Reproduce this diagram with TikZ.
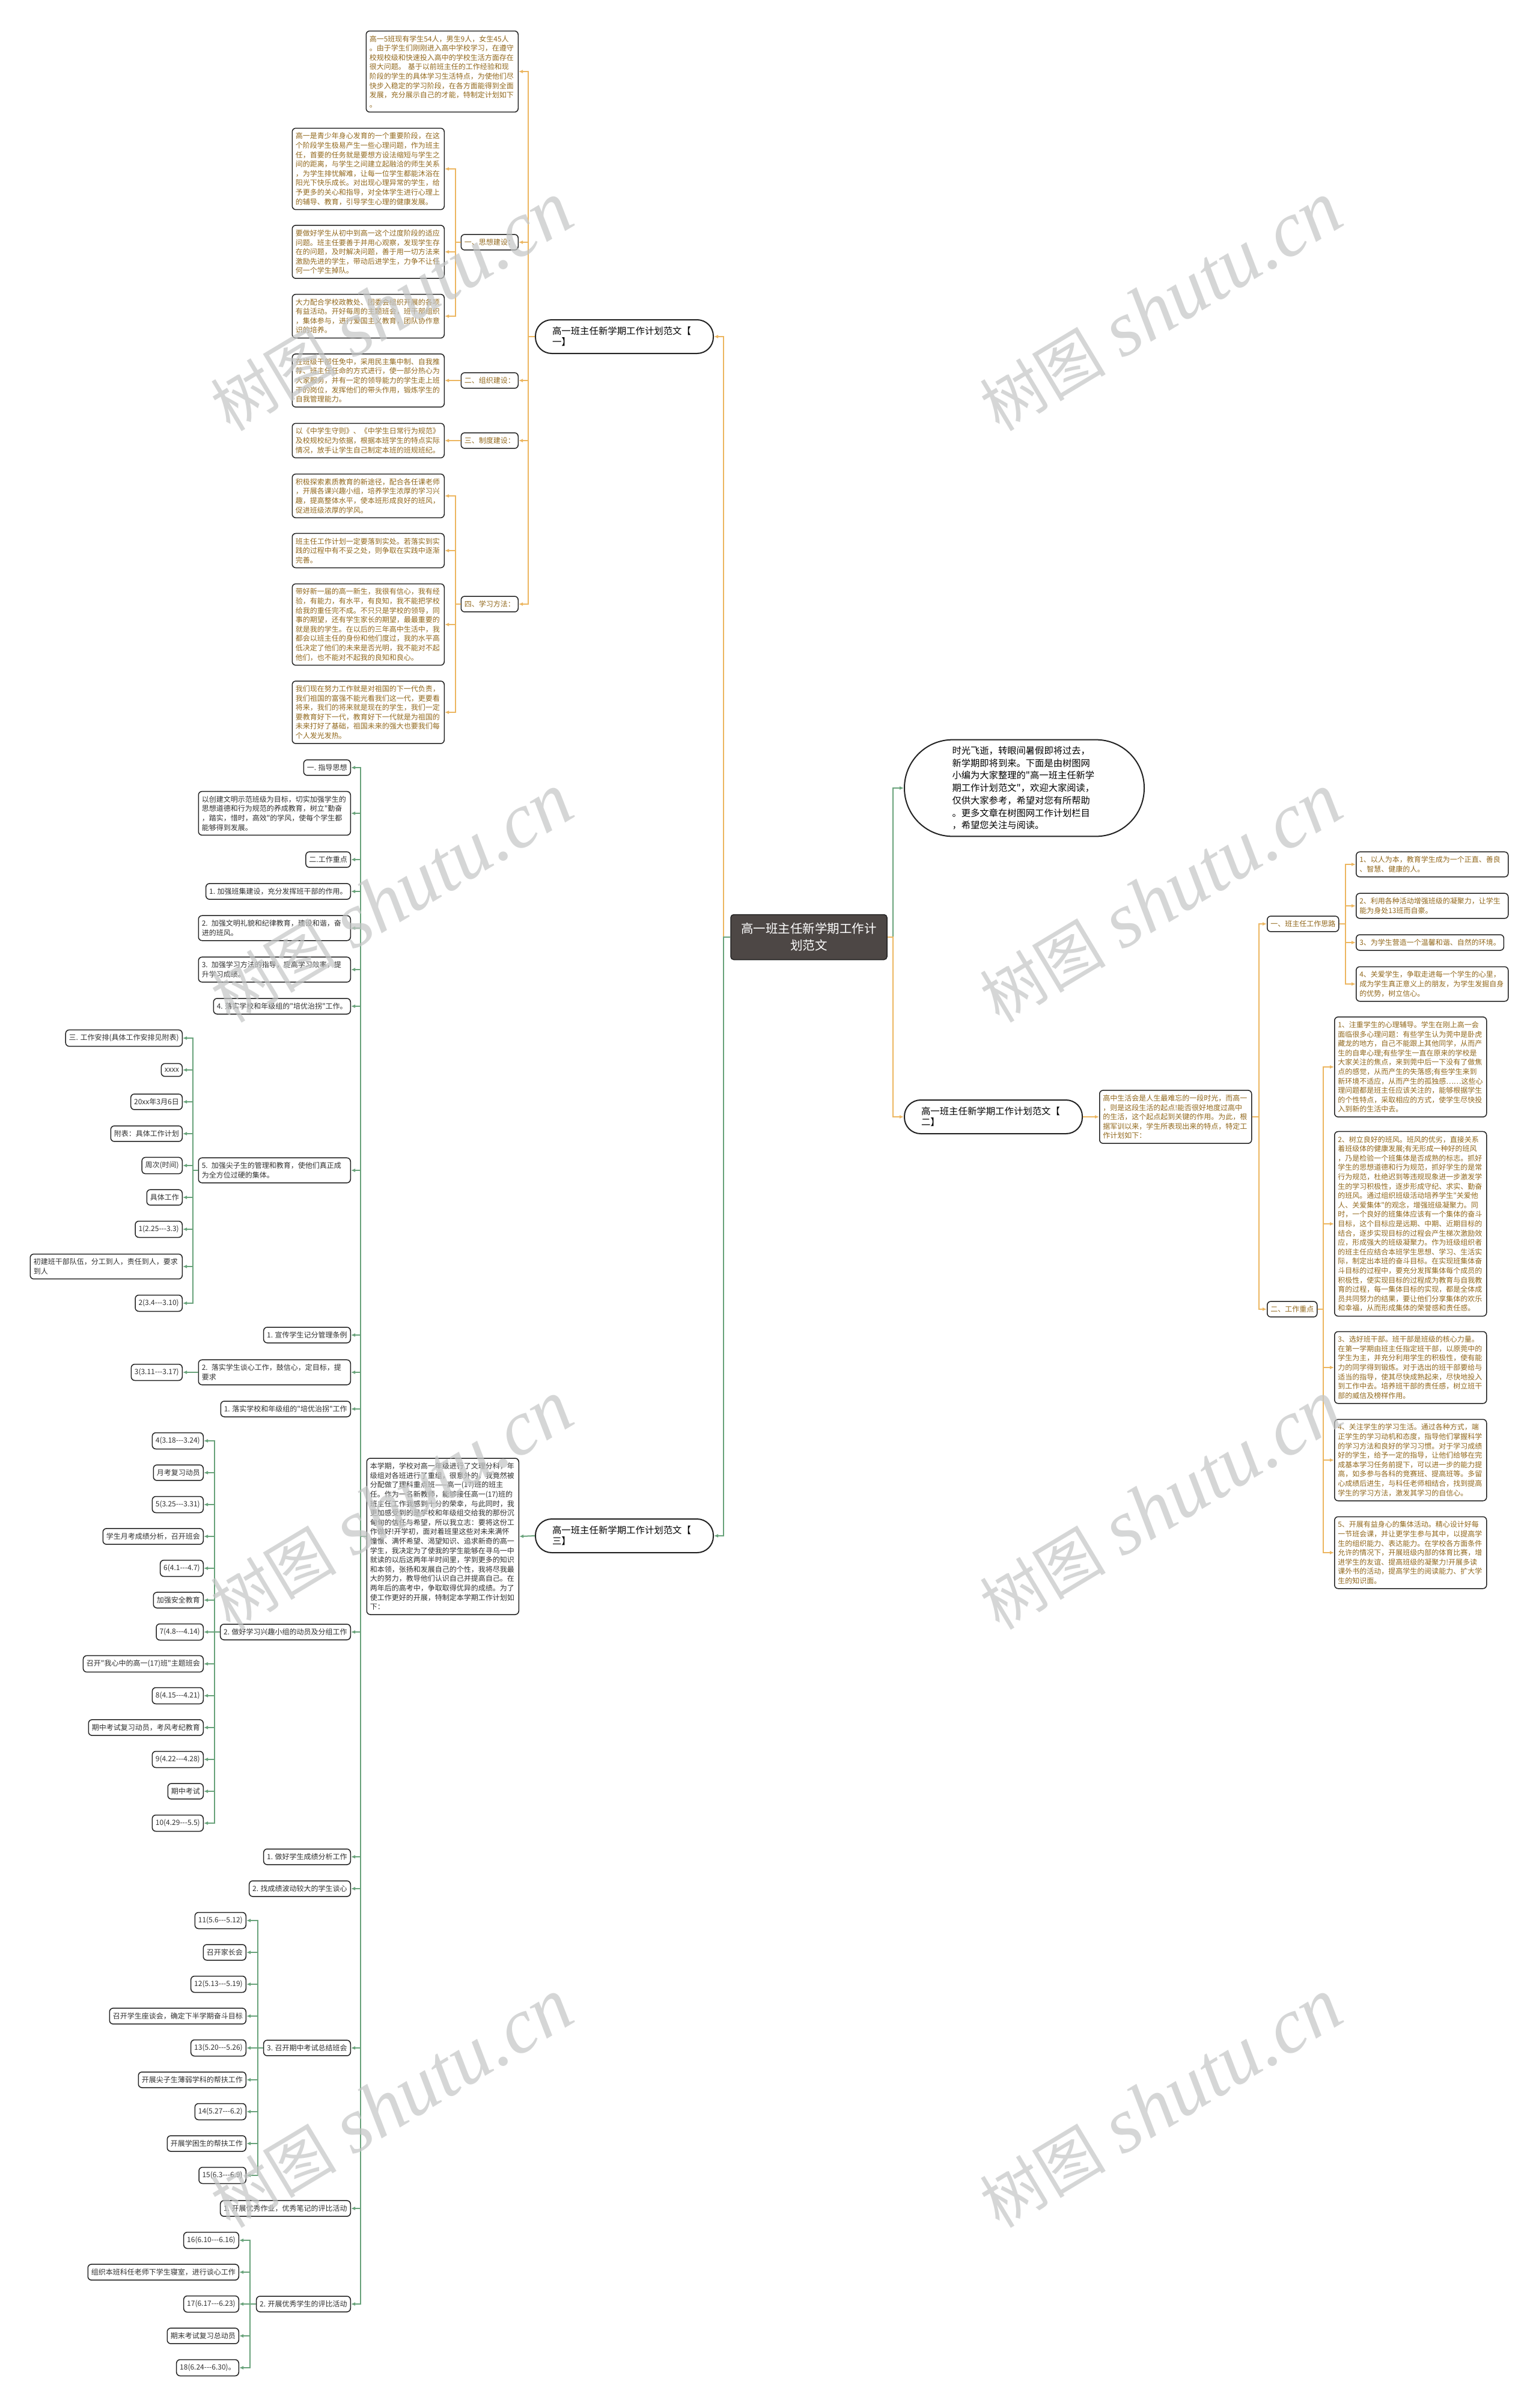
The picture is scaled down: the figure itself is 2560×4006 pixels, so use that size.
\documentclass[tikz,border=0pt]{standalone}
\usepackage{fontspec}
\newfontfamily\cjk[Ligatures=TeXOff]{Noto Sans CJK SC}
\newfontfamily\wmserif{Liberation Serif}
\usetikzlibrary{arrows.meta}
\definecolor{lineorange}{RGB}{236,182,96}
\definecolor{linegreen}{RGB}{104,162,122}
\definecolor{textgold}{RGB}{146,104,28}
\definecolor{textgray}{RGB}{48,48,48}
\definecolor{boxline}{RGB}{34,34,34}
\definecolor{rootfill}{RGB}{77,71,69}
\definecolor{wmgray}{RGB}{196,198,198}
\tikzset{
  mapbox/.style={draw=boxline, line width=1.5pt, fill=white, rounded corners=6pt,
    font=\cjk\fontsize{12}{15.6}\selectfont, inner xsep=5.5pt, inner ysep=7.4pt, align=left},
  gbox/.style={mapbox, text=textgray},
  obox/.style={mapbox, text=textgold},
  parabox/.style={text width=242pt},
  pill/.style={draw=boxline, line width=2pt, fill=white, rounded corners=27pt,
    font=\cjk\fontsize{15.4}{18}\selectfont, text width=240pt, align=left,
    inner xsep=28pt, inner ysep=11pt, minimum height=56pt},
  oline/.style={draw=lineorange, line width=2pt, -{Latex[length=7pt,width=6pt]}},
  gline/.style={draw=linegreen, line width=2pt, -{Latex[length=7pt,width=6pt]}},
  wmark/.style={text=wmgray, opacity=.7, rotate=31, inner sep=0pt}
}
\begin{document}
\begin{tikzpicture}[x=1pt, y=-1pt]
\useasboundingbox (0,0) rectangle (2560,4006);
\fill[white] (0,0) rectangle (2560,4006);

\node[draw=boxline, line width=1.5pt, fill=rootfill, text=white, rounded corners=5pt,
  font=\cjk\fontsize{20.5}{28}\selectfont, text width=226pt, align=center,
  inner xsep=17pt, inner ysep=14pt] (root) at (1346,1559) {高一班主任新学期工作计\\划范文};

\node[pill, anchor=east] (plan1) at (1188,560) {高一班主任新学期工作计划范文【\\一】};
\node[pill, anchor=west] (plan2) at (1504,1858) {高一班主任新学期工作计划范文【\\二】};
\node[pill, anchor=east] (plan3) at (1188,2555) {高一班主任新学期工作计划范文【\\三】};
\node[draw=boxline, line width=2pt, fill=white, rounded corners=80pt,
  font=\cjk\fontsize{15.3}{20.7}\selectfont, text width=240pt, align=left,
  minimum width=399pt, inner ysep=11pt, anchor=west] (intro) at (1504,1311)
  {时光飞逝，转眼间暑假即将过去，\\新学期即将到来。下面是由树图网\\小编为大家整理的"高一班主任新学\\期工作计划范文"，欢迎大家阅读，\\仅供大家参考，希望对您有所帮助\\。更多文章在树图网工作计划栏目\\，希望您关注与阅读。};

\draw[oline] (root.west) -- ++(-11,0) |- (plan1.east);
\draw[gline] (root.west) -- ++(-11,0) |- (plan3.east);
\draw[gline] (root.east) -- ++(9,0) |- (intro.west);
\draw[oline] (root.east) -- ++(9,0) |- (plan2.west);

\node[obox, parabox, anchor=east] (intro1) at (863,119) {高一5班现有学生54人，男生9人，女生45人\\。由于学生们刚刚进入高中学校学习，在遵守\\校规校级和快速投入高中的学校生活方面存在\\很大问题。 基于以前班主任的工作经验和现\\阶段的学生的具体学习生活特点，为使他们尽\\快步入稳定的学习阶段，在各方面能得到全面\\发展，充分展示自己的才能，特制定计划如下\\。};
\node[obox, anchor=east] (s1) at (863,403) {一、思想建设：};
\node[obox, anchor=east] (s2) at (863,633) {二、组织建设：};
\node[obox, anchor=east] (s3) at (863,733) {三、制度建设：};
\node[obox, anchor=east] (s4) at (863,1005) {四、学习方法：};
\node[obox, parabox, anchor=east] (t1) at (740,281) {高一是青少年身心发育的一个重要阶段，在这\\个阶段学生极易产生一些心理问题，作为班主\\任，首要的任务就是要想方设法缩短与学生之\\间的距离，与学生之间建立起融洽的师生关系\\，为学生排忧解难，让每一位学生都能沐浴在\\阳光下快乐成长。对出现心理异常的学生，给\\予更多的关心和指导，对全体学生进行心理上\\的辅导、教育，引导学生心理的健康发展。};
\node[obox, parabox, anchor=east] (t2) at (740,419) {要做好学生从初中到高一这个过度阶段的适应\\问题。班主任要善于并用心观察，发现学生存\\在的问题，及时解决问题，善于用一切方法来\\激励先进的学生，带动后进学生，力争不让任\\何一个学生掉队。};
\node[obox, parabox, anchor=east] (t3) at (740,526) {大力配合学校政教处、团委会组织开展的各项\\有益活动。开好每周的主题班会，班干部组织\\，集体参与，进行爱国主义教育，团队协作意\\识的培养。};
\node[obox, parabox, anchor=east] (t4) at (740,633) {在班级干部任免中，采用民主集中制、自我推\\荐、班主任任命的方式进行，使一部分热心为\\大家服务，并有一定的领导能力的学生走上班\\干的岗位，发挥他们的带头作用，锻炼学生的\\自我管理能力。};
\node[obox, parabox, anchor=east] (t5) at (740,733) {以《中学生守则》、《中学生日常行为规范》\\及校规校纪为依据，根据本班学生的特点实际\\情况，放手让学生自己制定本班的班规班纪。};
\node[obox, parabox, anchor=east] (t6) at (740,825) {积极探索素质教育的新途径，配合各任课老师\\，开展各课兴趣小组，培养学生浓厚的学习兴\\趣，提高整体水平，使本班形成良好的班风，\\促进班级浓厚的学风。};
\node[obox, parabox, anchor=east] (t7) at (740,916) {班主任工作计划一定要落到实处。若落实到实\\践的过程中有不妥之处，则争取在实践中逐渐\\完善。};
\node[obox, parabox, anchor=east] (t8) at (740,1039) {带好新一届的高一新生，我很有信心，我有经\\验，有能力，有水平，有良知，我不能把学校\\给我的重任完不成。不只只是学校的领导，同\\事的期望，还有学生家长的期望，最最重要的\\就是我的学生。在以后的三年高中生活中，我\\都会以班主任的身份和他们度过，我的水平高\\低决定了他们的未来是否光明，我不能对不起\\他们，也不能对不起我的良知和良心。};
\node[obox, parabox, anchor=east] (t9) at (740,1185) {我们现在努力工作就是对祖国的下一代负责，\\我们祖国的富强不能光看我们这一代，更要看\\将来，我们的将来就是现在的学生，我们一定\\要教育好下一代，教育好下一代就是为祖国的\\未来打好了基础，祖国未来的强大也要我们每\\个人发光发热。};
\foreach \c in {intro1,s1,s2,s3,s4}
  \draw[oline] (plan1.west) -- ++(-11,0) |- (\c.east);
\foreach \c in {t1,t2,t3}
  \draw[oline] (s1.west) -- ++(-9,0) |- (\c.east);
\draw[oline] (s2.west) -- (t4.east);
\draw[oline] (s3.west) -- (t5.east);
\foreach \c in {t6,t7,t8,t9}
  \draw[oline] (s4.west) -- ++(-9,0) |- (\c.east);

\node[obox, parabox, anchor=west] (intro2) at (1829,1858) {高中生活会是人生最难忘的一段时光，而高一\\，则是这段生活的起点!能否很好地度过高中\\的生活，这个起点起到关键的作用。为此，根\\据军训以来，学生所表现出来的特点，特定工\\作计划如下：};
\draw[oline] (plan2.east) -- (intro2.west);
\node[obox, anchor=west] (idea) at (2108,1537) {一、班主任工作思路};
\node[obox, anchor=west] (focus) at (2108,2178) {二、工作重点};
\foreach \c in {idea,focus}
  \draw[oline] (intro2.east) -- ++(11,0) |- (\c.west);
\node[obox, parabox, anchor=west] (c1) at (2256,1438) {1、以人为本，教育学生成为一个正直、善良\\、智慧、健康的人。};
\node[obox, parabox, anchor=west] (c2) at (2256,1507) {2、利用各种活动增强班级的凝聚力，让学生\\能为身处13班而自豪。};
\node[obox, anchor=west] (c3) at (2256,1568) {3、为学生营造一个温馨和谐、自然的环境。};
\node[obox, parabox, anchor=west] (c4) at (2256,1637) {4、关爱学生，争取走进每一个学生的心里，\\成为学生真正意义上的朋友，为学生发掘自身\\的优势，树立信心。};
\foreach \c in {c1,c2,c3,c4}
  \draw[oline] (idea.east) -- ++(10,0) |- (\c.west);
\node[obox, parabox, anchor=west] (w1) at (2220,1775) {1、注重学生的心理辅导。学生在刚上高一会\\面临很多心理问题：有些学生认为莞中是卧虎\\藏龙的地方，自己不能跟上其他同学，从而产\\生的自卑心理;有些学生一直在原来的学校是\\大家关注的焦点，来到莞中后一下没有了做焦\\点的感觉，从而产生的失落感;有些学生来到\\新环境不适应，从而产生的孤独感……这些心\\理问题都是班主任应该关注的，能够根据学生\\的个性特点，采取相应的方式，使学生尽快投\\入到新的生活中去。};
\node[obox, parabox, anchor=west] (w2) at (2220,2036) {2、树立良好的班风。班风的优劣，直接关系\\着班级体的健康发展;有无形成一种好的班风\\，乃是检验一个班集体是否成熟的标志。抓好\\学生的思想道德和行为规范，抓好学生的是常\\行为规范，杜绝迟到等违规现象进一步激发学\\生的学习积极性，逐步形成守纪、求实、勤奋\\的班风。通过组织班级活动培养学生"关爱他\\人、关爱集体"的观念，增强班级凝聚力。同\\时，一个良好的班集体应该有一个集体的奋斗\\目标，这个目标应是远期、中期、近期目标的\\结合，逐步实现目标的过程会产生梯次激励效\\应，形成强大的班级凝聚力。作为班级组织者\\的班主任应结合本班学生思想、学习、生活实\\际，制定出本班的奋斗目标。在实现班集体奋\\斗目标的过程中，要充分发挥集体每个成员的\\积极性，使实现目标的过程成为教育与自我教\\育的过程，每一集体目标的实现，都是全体成\\员共同努力的结果，要让他们分享集体的欢乐\\和幸福，从而形成集体的荣誉感和责任感。};
\node[obox, parabox, anchor=west] (w3) at (2220,2275) {3、选好班干部。班干部是班级的核心力量。\\在第一学期由班主任指定班干部，以原莞中的\\学生为主，并充分利用学生的积极性，使有能\\力的同学得到锻炼。对于选出的班干部要给与\\适当的指导，使其尽快成熟起来，尽快地投入\\到工作中去。培养班干部的责任感，树立班干\\部的威信及榜样作用。};
\node[obox, parabox, anchor=west] (w4) at (2220,2429) {4、关注学生的学习生活。通过各种方式，端\\正学生的学习动机和态度，指导他们掌握科学\\的学习方法和良好的学习习惯。对于学习成绩\\好的学生，给予一定的指导，让他们给够在完\\成基本学习任务前提下，可以进一步的能力提\\高，如多参与各科的竞赛班、提高班等。多留\\心成绩后进生，与科任老师相结合，找到提高\\学生的学习方法，激发其学习的自信心。};
\node[obox, parabox, anchor=west] (w5) at (2220,2583) {5、开展有益身心的集体活动。精心设计好每\\一节班会课，并让更学生参与其中，以提高学\\生的组织能力、表达能力。在学校各方面条件\\允许的情况下，开展班级内部的体育比赛，增\\进学生的友谊、提高班级的凝聚力!开展多读\\课外书的活动，提高学生的阅读能力、扩大学\\生的知识面。};
\foreach \c in {w1,w2,w3,w4,w5}
  \draw[oline] (focus.east) -- ++(9,0) |- (\c.west);

\node[gbox, parabox, anchor=east] (intro3) at (864,2556) {本学期，学校对高一年级进行了文理分科，年\\级组对各班进行了重组，很意外的，我竟然被\\分配做了理科重点班——高一(17)班的班主\\任。作为一名新教师，能够接任高一(17)班的\\班主任工作我感到十分的荣幸，与此同时，我\\更加感受到的是学校和年级组交给我的那份沉\\甸甸的信任与希望，所以我立志：要将这份工\\作做好!开学初，面对着班里这些对未来满怀\\憧憬、满怀希望、渴望知识、追求新奇的高一\\学生，我决定为了使我的学生能够在寻乌一中\\就读的以后这两年半时间里，学到更多的知识\\和本领，张扬和发展自己的个性，我将尽我最\\大的努力，教导他们认识自己并提高自己。在\\两年后的高考中，争取取得优异的成绩。为了\\使工作更好的开展，特制定本学期工作计划如\\下：};
\draw[gline] (plan3.west) -- (intro3.east);
\node[gbox, anchor=east] (a1) at (584,1277) {一. 指导思想};
\node[gbox, parabox, anchor=east] (a2) at (584,1353) {以创建文明示范班级为目标，切实加强学生的\\思想道德和行为规范的养成教育，树立"勤奋\\，踏实，惜时，高效"的学风，使每个学生都\\能够得到发展。};
\node[gbox, anchor=east] (a3) at (584,1430) {二.工作重点};
\node[gbox, anchor=east] (a4) at (584,1483) {1. 加强班集建设，充分发挥班干部的作用。};
\node[gbox, parabox, anchor=east] (a5) at (584,1544) {2. 加强文明礼貌和纪律教育，建设和谐，奋\\进的班风。};
\node[gbox, parabox, anchor=east] (a6) at (584,1613) {3. 加强学习方法的指导，提高学习效率，提\\升学习成绩。};
\node[gbox, anchor=east] (a7) at (584,1674) {4. 落实学校和年级组的"培优治拐"工作。};
\node[gbox, parabox, anchor=east] (a8) at (584,1947) {5. 加强尖子生的管理和教育，使他们真正成\\为全方位过硬的集体。};
\node[gbox, anchor=east] (a9) at (584,2221) {1. 宣传学生记分管理条例};
\node[gbox, parabox, anchor=east] (a10) at (584,2283) {2. 落实学生谈心工作，鼓信心，定目标，提\\要求};
\node[gbox, anchor=east] (a11) at (584,2344) {1. 落实学校和年级组的"培优治拐"工作};
\node[gbox, anchor=east] (a12) at (584,2715) {2. 做好学习兴趣小组的动员及分组工作};
\node[gbox, anchor=east] (a13) at (584,3089) {1. 做好学生成绩分析工作};
\node[gbox, anchor=east] (a14) at (584,3142) {2. 找成绩波动较大的学生谈心};
\node[gbox, anchor=east] (a15) at (584,3407) {3. 召开期中考试总结班会};
\node[gbox, anchor=east] (a16) at (584,3674) {1. 开展优秀作业，优秀笔记的评比活动};
\node[gbox, anchor=east] (a17) at (584,3833) {2. 开展优秀学生的评比活动};
\foreach \i in {1,...,17}
  \draw[gline] (intro3.west) -- ++(-10,0) |- (a\i.east);

\foreach \txt [count=\i] in {{三. 工作安排(具体工作安排见附表)}, xxxx, {20xx年3月6日},
    {附表：具体工作计划}, {周次(时间)}, 具体工作, {1(2.25---3.3)}}
  \node[gbox, anchor=east] (b\i) at (304,{1674+53*\i}) {\txt};
\node[gbox, parabox, anchor=east] (b8) at (304,2107) {初建班干部队伍，分工到人，责任到人，要求\\到人};
\node[gbox, anchor=east] (b9) at (304,2168) {2(3.4---3.10)};
\foreach \i in {1,...,9}
  \draw[gline] (a8.west) -- ++(-9,0) |- (b\i.east);
\node[gbox, anchor=east] (b10) at (304,2283) {3(3.11---3.17)};
\draw[gline] (a10.west) -- (b10.east);

\foreach \txt [count=\i] in {{4(3.18---3.24)}, 月考复习动员, {5(3.25---3.31)},
    {学生月考成绩分析，召开班会}, {6(4.1---4.7)}, 加强安全教育, {7(4.8---4.14)},
    {召开"我心中的高一(17)班"主题班会}, {8(4.15---4.21)}, {期中考试复习动员，考风考纪教育},
    {9(4.22---4.28)}, 期中考试, {10(4.29---5.5)}}{
  \node[gbox, anchor=east] (c\i) at (339,{2344+53*\i}) {\txt};
  \draw[gline] (a12.west) -- ++(-9,0) |- (c\i.east);
}
\foreach \txt [count=\i] in {{11(5.6---5.12)}, 召开家长会, {12(5.13---5.19)},
    {召开学生座谈会，确定下半学期奋斗目标}, {13(5.20---5.26)}, 开展尖子生薄弱学科的帮扶工作,
    {14(5.27---6.2)}, 开展学困生的帮扶工作, {15(6.3---6.9)}}{
  \node[gbox, anchor=east] (d\i) at (410,{3142+53*\i}) {\txt};
  \draw[gline] (a15.west) -- ++(-9,0) |- (d\i.east);
}
\foreach \txt [count=\i] in {{16(6.10---6.16)}, {组织本班科任老师下学生寝室，进行谈心工作},
    {17(6.17---6.23)}, 期末考试复习总动员, {18(6.24---6.30)。}}{
  \node[gbox, anchor=east] (e\i) at (398,{3674+53*\i}) {\txt};
  \draw[gline] (a17.west) -- ++(-10,0) |- (e\i.east);
}

\foreach \wx/\wy in {652/511, 1932/511, 652/1495, 1932/1495, 652/2505, 1932/2505, 652/3500, 1932/3500}
  \node[wmark] (wm-\wx-\wy) at (\wx,\wy)
    {{\cjk\fontsize{105}{105}\selectfont 树图}\hspace{28pt}{\wmserif\itshape\fontsize{130}{130}\selectfont shutu.cn}};
\end{tikzpicture}
\end{document}
